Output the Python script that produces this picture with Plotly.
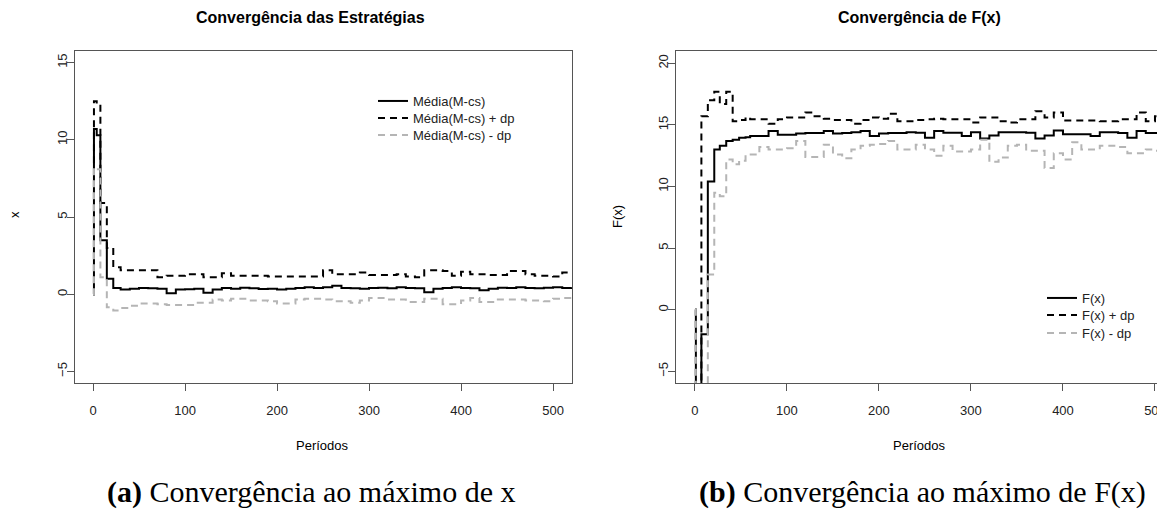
import plotly.graph_objects as pgo

# periodos (eixo x) de cada painel
periodos_x = [0, 1, 4, 8, 15, 22, 30, 40, 50, 60, 70, 80, 90, 100, 110, 120, 130, 140, 150, 160,
              170, 180, 190, 200, 210, 220, 230, 240, 250, 260, 270, 280, 290, 300, 310, 320, 330,
              340, 350, 360, 370, 380, 390, 400, 410, 420, 430, 440, 450, 460, 470, 480, 490, 500,
              510, 520]
periodos_f = [0, 1, 7, 14, 21, 27, 34, 41, 48, 55, 60, 70, 80, 90, 100, 110, 120, 130, 140, 150,
              160, 170, 180, 190, 200, 210, 220, 230, 240, 250, 260, 270, 280, 290, 300, 310, 320,
              330, 340, 350, 360, 370, 380, 390, 400, 410, 420, 430, 440, 450, 460, 470, 480, 490,
              500, 510, 520]

# painel (a): media de x e +/- desvio padrao
media_x = [0, 10.7, 10.3, 3.5, 1.0, 0.4, 0.3, 0.35, 0.4, 0.38, 0.35, 0.06, 0.3, 0.32, 0.35, 0.1,
           0.3, 0.4, 0.35, 0.42, 0.38, 0.33, 0.35, 0.3, 0.35, 0.4, 0.45, 0.4, 0.45, 0.55, 0.4,
           0.38, 0.35, 0.4, 0.42, 0.38, 0.45, 0.4, 0.38, 0.13, 0.35, 0.4, 0.45, 0.4, 0.38, 0.25,
           0.35, 0.42, 0.4, 0.45, 0.4, 0.38, 0.42, 0.45, 0.4, 0.45]
media_x_mais = [0, 12.5, 12.2, 5.9, 3.0, 1.75, 1.55, 1.55, 1.55, 1.55, 1.1, 1.2, 1.2, 1.3, 1.3,
                1.1, 1.1, 1.35, 1.2, 1.2, 1.2, 1.2, 1.15, 1.15, 1.15, 1.15, 1.15, 1.15, 1.55, 1.3,
                1.3, 1.3, 1.4, 1.25, 1.25, 1.25, 1.3, 1.15, 1.1, 1.55, 1.55, 1.5, 1.2, 1.45, 1.3,
                1.3, 1.25, 1.25, 1.5, 1.5, 1.3, 1.2, 1.2, 1.15, 1.4, 1.4]
media_x_menos = [0, 8.2, 8.1, 1.1, -0.85, -1.05, -0.9, -0.75, -0.6, -0.6, -0.65, -0.7, -0.7,
                 -0.7, -0.55, -0.55, -0.35, -0.4, -0.3, -0.3, -0.4, -0.4, -0.45, -0.6, -0.6,
                 -0.35, -0.3, -0.3, -0.35, -0.45, -0.45, -0.55, -0.4, -0.25, -0.25, -0.35, -0.35,
                 -0.5, -0.5, -0.3, -0.3, -0.65, -0.65, -0.4, -0.25, -0.5, -0.5, -0.35, -0.35,
                 -0.35, -0.4, -0.4, -0.45, -0.3, -0.25, -0.25]

# painel (b): F(x) e +/- desvio padrao
fx = [0, -12, -2.0, 10.4, 13.0, 13.3, 13.7, 13.8, 13.95, 14.0, 14.1, 14.1, 14.5, 14.2, 14.2,
      14.3, 14.35, 14.35, 14.5, 14.3, 14.35, 14.4, 14.5, 14.1, 14.3, 14.35, 14.35, 14.4, 14.37,
      13.96, 14.5, 14.37, 14.37, 14.1, 14.4, 13.9, 14.15, 14.4, 14.4, 14.4, 14.37, 13.9, 14.15,
      14.55, 14.25, 14.25, 14.25, 14.1, 14.4, 14.4, 14.35, 13.96, 14.5, 14.35, 14.35, 14.1, 14.9]
fx_mais = [0, -7, 15.7, 17.0, 17.7, 16.7, 17.7, 15.3, 15.4, 15.6, 15.45, 15.45, 15.1, 15.45,
           15.6, 15.6, 16.0, 15.7, 15.5, 15.4, 15.4, 15.1, 15.4, 15.6, 15.5, 15.9, 15.3, 15.3,
           15.4, 15.45, 15.5, 15.45, 15.45, 15.45, 15.2, 15.6, 15.6, 15.3, 15.2, 15.45, 15.45,
           16.1, 15.6, 16.0, 15.35, 15.35, 15.35, 15.35, 15.3, 15.3, 15.45, 15.45, 16.0, 15.3,
           15.7, 15.7, 16.0]
fx_menos = [0, -20, -20, 2.85, 9.5, 9.2, 12.2, 11.8, 12.1, 12.6, 12.6, 13.2, 13.0, 13.0, 13.1,
            13.7, 12.4, 12.4, 13.4, 12.6, 12.3, 13.0, 13.3, 13.4, 13.45, 13.7, 13.0, 13.0, 13.4,
            13.0, 12.5, 13.3, 12.85, 12.85, 13.0, 13.8, 12.0, 12.35, 13.3, 13.4, 12.9, 12.9,
            11.5, 12.7, 12.2, 13.6, 13.0, 13.0, 13.3, 13.3, 13.2, 12.7, 12.7, 13.0, 12.9, 12.9,
            13.3]

W, H = 1165, 520
OFF = 8  # margem do <body> da pagina
fonte = "Liberation Sans, Arial, sans-serif"
serif = "Liberation Serif, Times New Roman, serif"
cinza = "#b5b5b5"
tracejado = "7px,5px"


def px(v):
    return (v - OFF) / W


def py(v):
    return 1 - (v - OFF) / H


fig = pgo.Figure()

series = [
    (periodos_x, media_x, "black", None, "Média(M-cs)", "x", "y", "legend"),
    (periodos_x, media_x_mais, "black", tracejado, "Média(M-cs) + dp", "x", "y", "legend2"),
    (periodos_x, media_x_menos, cinza, tracejado, "Média(M-cs) - dp", "x", "y", "legend3"),
    (periodos_f, fx, "black", None, "F(x)", "x2", "y2", "legend4"),
    (periodos_f, fx_mais, "black", tracejado, "F(x) + dp", "x2", "y2", "legend5"),
    (periodos_f, fx_menos, cinza, tracejado, "F(x) - dp", "x2", "y2", "legend6"),
]
for xs, ys, cor, dash, nome, xa, ya, leg in series:
    fig.add_trace(pgo.Scatter(x=xs, y=ys, mode="lines", line_shape="hv",
                              line=dict(color=cor, width=2, dash=dash), name=nome,
                              xaxis=xa, yaxis=ya, legend=leg))

eixo = dict(showgrid=False, zeroline=False, showline=True, linecolor="#555555", linewidth=1,
            ticks="outside", ticklen=7, tickcolor="#555555",
            tickfont=dict(family=fonte, size=13, color="#222"))

y_dom = [py(383), py(51)]
leg = dict(xanchor="left", yanchor="middle", bgcolor="rgba(0,0,0,0)", itemwidth=30,
           font=dict(family=fonte, size=13, color="#222"))
fig.update_layout(
    width=W, height=H,
    margin=dict(l=0, r=0, t=0, b=0),
    plot_bgcolor="white", paper_bgcolor="white",
    font=dict(family=fonte, size=13, color="#222"),
    xaxis=dict(eixo, domain=[px(75), px(572)], range=[-19.6, 520.6],
               tickvals=[0, 100, 200, 300, 400, 500], mirror=True, ticklabelstandoff=8, anchor="y"),
    yaxis=dict(eixo, domain=y_dom, range=[-5.75, 15.75], tickvals=[-5, 0, 5, 10, 15],
               mirror=True, tickangle=-90, ticklabelstandoff=-5, anchor="x"),
    xaxis2=dict(eixo, domain=[px(676), px(1165)], range=[-20.6, 510.9],
                tickvals=[0, 100, 200, 300, 400, 500], mirror=True, ticklabelstandoff=8, anchor="y2"),
    yaxis2=dict(eixo, domain=y_dom, range=[-5.95, 21.0], tickvals=[-5, 0, 5, 10, 15, 20],
                mirror=False, tickangle=-90, ticklabelstandoff=-5, anchor="x2"),
    legend=dict(leg, x=px(373), y=py(101)),
    legend2=dict(leg, x=px(373), y=py(118)),
    legend3=dict(leg, x=px(373), y=py(135)),
    legend4=dict(leg, x=px(1042), y=py(298)),
    legend5=dict(leg, x=px(1042), y=py(315)),
    legend6=dict(leg, x=px(1042), y=py(333)),
    showlegend=True,
)

textos = [
    ("<b>Convergência das Estratégias</b>", 310, 17, 16, 0, fonte),
    ("<b>Convergência de F(x)</b>", 919, 17, 16, 0, fonte),
    ("Períodos", 322, 445, 13, 0, fonte),
    ("Períodos", 919, 445, 13, 0, fonte),
    ("x", 15, 215, 13, -90, fonte),
    ("F(x)", 617, 217, 13, -90, fonte),
    ("<b>(a)</b> Convergência ao máximo de x", 311, 492, 30, 0, serif),
    ("<b>(b)</b> Convergência ao máximo de F(x)", 922, 492, 30, 0, serif),
]
for texto, tx, ty, tam, ang, fam in textos:
    fig.add_annotation(text=texto, x=px(tx), y=py(ty), xref="paper", yref="paper",
                       showarrow=False, textangle=ang, xanchor="center", yanchor="middle",
                       font=dict(family=fam, size=tam, color="black"))

fig.write_html("out.html")
